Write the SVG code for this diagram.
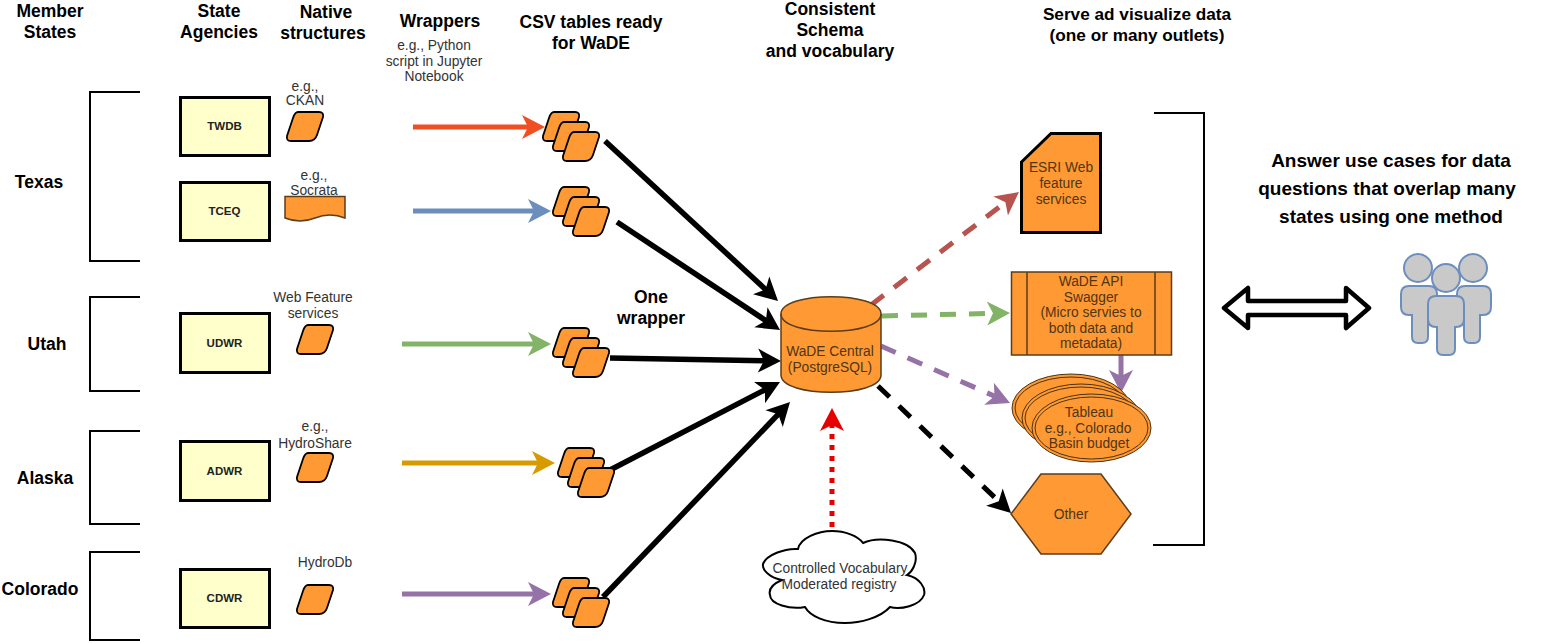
<svg xmlns="http://www.w3.org/2000/svg" xmlns:xlink="http://www.w3.org/1999/xlink" width="1551" height="643" viewBox="0 0 1551 643">
<style>
text{font-family:"Liberation Sans",Arial,sans-serif;text-anchor:middle}
.h{font-size:17.5px;font-weight:700;fill:#000}
.st{font-size:17.500px;font-weight:700;fill:#000}
.big{font-size:19px;font-weight:700;fill:#000}
.n{font-size:13.800px;fill:#333}
.o{font-size:13.800px;fill:#4f3518}
.a{font-size:11.500px;font-weight:700;fill:#222}
.agency{fill:#ffffcc;stroke:#000;stroke-width:3}
.bracket{fill:none;stroke:#000;stroke-width:2}
.pg{fill:#ff9933;stroke:#000;stroke-width:1.800}
.orange{fill:#ff9933;stroke:#5a3d1c;stroke-width:1.500}
.c{fill:none;stroke-width:5}
.k{stroke:#000;stroke-width:5.500;fill:none}
.d{fill:none;stroke-width:5;stroke-dasharray:16 13}
.p{fill:#c9c9c9;stroke:#6c8ebf;stroke-width:2}
.thin{fill:#ff9933;stroke:#4a3216;stroke-width:1}
</style>
<defs>
<path id="pg" class="pg" d="M12 1H33Q38 1 37 6L31 24Q29 30 23 30H5Q0 30 1 25L7 7Q9 1 12 1Z"/>
<g id="stack"><use xlink:href="#pg" href="#pg"/><use xlink:href="#pg" href="#pg" x="10" y="10"/><use xlink:href="#pg" href="#pg" x="20" y="20"/></g>
<marker id="mR" markerUnits="userSpaceOnUse" viewBox="0 0 26 26" markerWidth="26" markerHeight="26" refX="14" refY="13" orient="auto"><path d="M1 1L24 13L1 25L7 13Z" fill="#f04e23"/></marker>
<marker id="mB" markerUnits="userSpaceOnUse" viewBox="0 0 26 26" markerWidth="26" markerHeight="26" refX="14" refY="13" orient="auto"><path d="M1 1L24 13L1 25L7 13Z" fill="#6c8ebf"/></marker>
<marker id="mG" markerUnits="userSpaceOnUse" viewBox="0 0 26 26" markerWidth="26" markerHeight="26" refX="14" refY="13" orient="auto"><path d="M1 1L24 13L1 25L7 13Z" fill="#82b366"/></marker>
<marker id="mY" markerUnits="userSpaceOnUse" viewBox="0 0 26 26" markerWidth="26" markerHeight="26" refX="14" refY="13" orient="auto"><path d="M1 1L24 13L1 25L7 13Z" fill="#d79b00"/></marker>
<marker id="mP" markerUnits="userSpaceOnUse" viewBox="0 0 26 26" markerWidth="26" markerHeight="26" refX="14" refY="13" orient="auto"><path d="M1 1L24 13L1 25L7 13Z" fill="#9673a6"/></marker>
<marker id="mK" markerUnits="userSpaceOnUse" viewBox="0 0 26 26" markerWidth="26" markerHeight="26" refX="14" refY="13" orient="auto"><path d="M1 1L24 13L1 25L7 13Z" fill="#000"/></marker>
<marker id="mD" markerUnits="userSpaceOnUse" viewBox="0 0 26 26" markerWidth="26" markerHeight="26" refX="14" refY="13" orient="auto"><path d="M1 1L24 13L1 25L7 13Z" fill="#b85450"/></marker>
<marker id="mE" markerUnits="userSpaceOnUse" viewBox="0 0 26 26" markerWidth="26" markerHeight="26" refX="14" refY="13" orient="auto"><path d="M1 1L24 13L1 25L7 13Z" fill="#e60000"/></marker>
</defs>
<rect width="1551" height="643" fill="#fff"/>

<g id="headers">
<text class="h" x="50" y="17">Member</text><text class="h" x="50" y="38">States</text>
<text class="h" x="219" y="17">State</text><text class="h" x="219" y="38">Agencies</text>
<text class="h" x="326" y="18">Native</text><text class="h" x="323" y="39">structures</text>
<text class="h" x="440" y="27">Wrappers</text>
<text class="n" x="434" y="50">e.g., Python</text><text class="n" x="434" y="66">script in Jupyter</text><text class="n" x="434" y="81">Notebook</text>
<text class="h" x="591" y="28">CSV tables ready</text><text class="h" x="591" y="49">for WaDE</text>
<text class="h" x="830" y="15">Consistent</text><text class="h" x="830" y="36">Schema</text><text class="h" x="830" y="57">and vocabulary</text>
<text class="h" x="1137" y="20" style="font-size:17.200px">Serve ad visualize data</text><text class="h" x="1137" y="41" style="font-size:17.200px">(one or many outlets)</text>
<text class="h" x="651" y="303">One</text><text class="h" x="651" y="324">wrapper</text>
</g>

<g id="connectors">
<path class="c" stroke="#f04e23" d="M413 127H535" marker-end="url(#mR)"/>
<path class="c" stroke="#6c8ebf" d="M413 211H541" marker-end="url(#mB)"/>
<path class="c" stroke="#82b366" d="M402 344H541" marker-end="url(#mG)"/>
<path class="c" stroke="#d79b00" d="M402 463H545" marker-end="url(#mY)"/>
<path class="c" stroke="#9673a6" d="M402 594H541" marker-end="url(#mP)"/>
<path class="k" d="M605 141L770.700 294.200" marker-end="url(#mK)"/>
<path class="k" d="M617 222L771.700 324.500" marker-end="url(#mK)"/>
<path class="k" d="M610 358L771 360.800" marker-end="url(#mK)"/>
<path class="k" d="M610 470L771.100 386.600" marker-end="url(#mK)"/>
<path class="k" d="M603 597L783.100 409.200" marker-end="url(#mK)"/>
<path class="d" stroke="#b85450" d="M871 305L1011 198.100" marker-end="url(#mD)"/>
<path class="d" stroke="#82b366" d="M882 316L1000 313.200" marker-end="url(#mG)"/>
<path class="d" stroke="#9673a6" d="M881 346L1000.900 399" marker-end="url(#mP)"/>
<path class="d" stroke="#000" d="M878 386L1003.800 506.100" marker-end="url(#mK)"/>
<path class="c" stroke="#9673a6" d="M1121 355V383" marker-end="url(#mP)"/>
<path fill="none" stroke="#e60000" stroke-width="5" stroke-dasharray="5 6" d="M832 527V418" marker-end="url(#mE)"/>
</g>

<g id="state-texas"><path class="bracket" d="M140 92H90V261H140"/><text class="st" x="39" y="188">Texas</text></g>
<g id="state-utah"><path class="bracket" d="M140 297H90V391H140"/><text class="st" x="47" y="350">Utah</text></g>
<g id="state-alaska"><path class="bracket" d="M140 431H90V524H140"/><text class="st" x="45" y="484">Alaska</text></g>
<g id="state-colorado"><path class="bracket" d="M140 552H90V640H140"/><text class="st" x="40" y="595">Colorado</text></g>

<g id="agency-twdb"><rect class="agency" x="180.500" y="97.500" width="89" height="58"/><text class="a" x="224.500" y="130">TWDB</text></g>
<g id="agency-tceq"><rect class="agency" x="180.500" y="182.500" width="89" height="58"/><text class="a" x="224.500" y="215">TCEQ</text></g>
<g id="agency-udwr"><rect class="agency" x="180.500" y="313.500" width="89" height="59"/><text class="a" x="224.500" y="347">UDWR</text></g>
<g id="agency-adwr"><rect class="agency" x="180.500" y="441.500" width="89" height="59"/><text class="a" x="224.500" y="475">ADWR</text></g>
<g id="agency-cdwr"><rect class="agency" x="180.500" y="569.500" width="89" height="58"/><text class="a" x="224.500" y="602">CDWR</text></g>

<g id="native-ckan"><text class="n" x="305" y="91">e.g.,</text><text class="n" x="305" y="105">CKAN</text><use xlink:href="#pg" href="#pg" x="286" y="111"/></g>
<g id="native-socrata"><text class="n" x="314" y="180">e.g.,</text><text class="n" x="314" y="195">Socrata</text><path class="orange" d="M285 196.500H345V218C335 214 325 214 315 218C305 222 295 222 285 218Z"/></g>
<g id="native-wfs"><text class="n" x="313" y="302">Web Feature</text><text class="n" x="313" y="318">services</text><use xlink:href="#pg" href="#pg" x="296" y="324"/></g>
<g id="native-hydroshare"><text class="n" x="315" y="431">e.g.,</text><text class="n" x="315" y="448">HydroShare</text><use xlink:href="#pg" href="#pg" x="296" y="452"/></g>
<g id="native-hydrodb"><text class="n" x="325" y="567">HydroDb</text><use xlink:href="#pg" href="#pg" x="296" y="584"/></g>

<g id="csv-1"><use xlink:href="#stack" href="#stack" x="542" y="111"/></g>
<g id="csv-2"><use xlink:href="#stack" href="#stack" x="552" y="186"/></g>
<g id="csv-3"><use xlink:href="#stack" href="#stack" x="552" y="327"/></g>
<g id="csv-4"><use xlink:href="#stack" href="#stack" x="557" y="447"/></g>
<g id="csv-5"><use xlink:href="#stack" href="#stack" x="552" y="577"/></g>

<g id="wade-central">
<path class="orange" d="M781 314C781 291 881 291 881 314V375C881 398 781 398 781 375Z"/>
<path fill="none" stroke="#5a3d1c" stroke-width="1.500" d="M781 314C781 337 881 337 881 314"/>
<text class="o" x="830" y="356">WaDE Central</text><text class="o" x="830" y="372">(PostgreSQL)</text>
</g>

<g id="vocabulary">
<path fill="#fff" stroke="#000" stroke-width="2" d="M798 549C800 538 818 531 832 531C845 531 858 536 863 543C878 536 908 540 915 553C918 562 912 572 907 575C920 578 926 588 924 595C920 606 900 610 890 607C880 618 860 623 845 623C825 623 810 616 805 607C790 610 770 604 770 595C768 588 775 583 782 580C770 578 762 570 763 564C766 555 785 548 798 549Z"/>
<text class="n" x="840" y="573">Controlled Vocabulary</text><text class="n" x="839" y="589">Moderated registry</text>
</g>

<g id="esri">
<path fill="#ff9933" stroke="#000" stroke-width="3" d="M1021.500 162L1051 133.500H1100.500V232.500H1021.500Z"/>
<text class="o" x="1061" y="172">ESRI Web</text><text class="o" x="1061" y="188">feature</text><text class="o" x="1061" y="204">services</text>
</g>

<g id="wade-api">
<rect class="orange" x="1011.500" y="272" width="160" height="83"/>
<path fill="none" stroke="#5a3d1c" stroke-width="1.500" d="M1027 272V355M1155 272V355"/>
<text class="o" x="1091" y="286">WaDE API</text><text class="o" x="1091" y="302">Swagger</text><text class="o" x="1091" y="317">(Micro servies to</text><text class="o" x="1091" y="333">both data and</text><text class="o" x="1091" y="348">metadata)</text>
</g>

<g id="tableau">
<ellipse class="thin" cx="1071" cy="408" rx="59" ry="34"/><ellipse class="thin" cx="1071" cy="408" rx="56" ry="31"/>
<ellipse class="thin" cx="1081" cy="418" rx="59" ry="34"/><ellipse class="thin" cx="1081" cy="418" rx="56" ry="31"/>
<ellipse class="thin" cx="1091.500" cy="428" rx="59.500" ry="34"/><ellipse class="thin" cx="1091.500" cy="428" rx="56.500" ry="31"/>
<text class="o" x="1089" y="417">Tableau</text><text class="o" x="1088" y="433">e.g., Colorado</text><text class="o" x="1089" y="448">Basin budget</text>
</g>

<g id="other">
<path class="orange" d="M1011 514L1041 474H1101L1131 514L1101 554H1041Z"/>
<text class="o" x="1071" y="519">Other</text>
</g>

<g id="outlets-bracket"><path class="bracket" d="M1154 113H1204V545H1153"/></g>

<g id="answer">
<text class="big" x="1391" y="167">Answer use cases for data</text><text class="big" x="1387" y="195">questions that overlap many</text><text class="big" x="1391" y="223">states using one method</text>
</g>

<g id="double-arrow">
<path fill="#fff" stroke="#000" stroke-width="4.500" stroke-linejoin="round" d="M1224 308L1248 288V301H1346V288L1369 308L1346 328V315H1248V328Z"/>
</g>

<g id="users">
<path class="p" d="M1409 286H1429Q1437 286 1437 294V315H1428V337Q1428 343 1422 343H1418Q1412 343 1412 337V315H1409Q1401 315 1401 307V294Q1401 286 1409 286Z"/>
<circle class="p" cx="1418" cy="268" r="14"/>
<path class="p" d="M1465 286H1483Q1491 286 1491 294V307Q1491 315 1483 315H1480V337Q1480 343 1474 343H1470Q1464 343 1464 337V315H1457V294Q1457 286 1465 286Z"/>
<circle class="p" cx="1473" cy="268" r="14"/>
<circle class="p" cx="1446" cy="278" r="14"/>
<path class="p" d="M1436 296H1456Q1464 296 1464 304V319Q1464 327 1456 327H1455V349Q1455 355 1449 355H1443Q1437 355 1437 349V327H1436Q1428 327 1428 319V304Q1428 296 1436 296Z"/>
</g>
</svg>
